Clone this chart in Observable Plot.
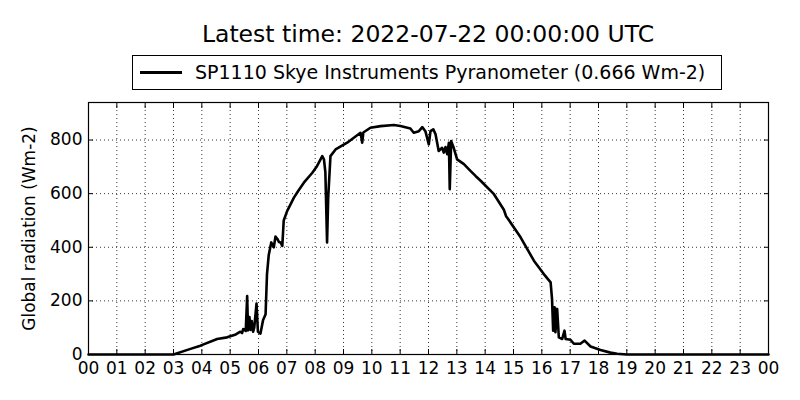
<!DOCTYPE html>
<html>
<head>
<meta charset="utf-8">
<script src="https://cdn.jsdelivr.net/npm/d3@7"></script>
<script src="https://cdn.jsdelivr.net/npm/@observablehq/plot@0.6"></script>
<style>
  body { margin: 0; background: #fff; font-family: "DejaVu Sans", sans-serif; }
  #wrap { position: relative; width: 800px; height: 400px; }
  #title { position: absolute; top: 19px; left: 88px; width: 680px; text-align: center; font-size: 23.5px; line-height: 30px; white-space: nowrap; }
  #legend { position: absolute; left: 132px; top: 55px; width: 588px; height: 33px; border: 1px solid #000; box-sizing: content-box; font-size: 19px; }
  #legend .swatch { position: absolute; left: 7px; top: 15px; width: 42px; height: 3px; background: #000; }
  #legend .label { position: absolute; left: 62px; top: 3px; white-space: nowrap; line-height: 26px; }
  #chart { position: absolute; left: 0; top: 95px; }
</style>
</head>
<body>
<div id="wrap">
  <div id="title"></div>
  <div id="legend"><div class="swatch"></div><div class="label"></div></div>
  <div id="chart"></div>
</div>
<script>
const titleText = "Latest time: 2022-07-22 00:00:00 UTC";
const seriesName = "SP1110 Skye Instruments Pyranometer (0.666 Wm-2)";
const yLabel = "Global radiation (Wm-2)";

// hours since 00:00 UTC and global radiation (Wm-2)
const hours = [0, 3.0, 3.6, 3.95, 4.54, 4.89, 5.2, 5.36, 5.42, 5.46, 5.55, 5.6, 5.63, 5.68, 5.72, 5.76, 5.81, 5.85, 5.93, 5.98,
  6.07, 6.16, 6.25, 6.3, 6.36, 6.45, 6.54, 6.6, 6.66, 6.72, 6.78, 6.84, 6.89, 7.01, 7.25, 7.4, 7.6, 7.9, 8.05, 8.25,
  8.31, 8.36, 8.42, 8.46, 8.54, 8.72, 9.13, 9.6, 9.63, 9.66, 9.7, 9.95, 10.31, 10.78, 11.01, 11.36, 11.48, 11.66, 11.78, 11.89,
  12.01, 12.07, 12.17, 12.25, 12.36, 12.48, 12.54, 12.6, 12.66, 12.72, 12.75, 12.8, 12.89, 13.01, 13.25, 13.48, 13.66, 13.84, 14.31, 14.66,
  14.74, 14.78, 15.25, 15.72, 16.07, 16.31, 16.36, 16.4, 16.45, 16.48, 16.54, 16.6, 16.72, 16.8, 16.84, 17.01, 17.13, 17.36, 17.51, 17.72,
  18.07, 18.42, 18.66, 19.0, 24];
const radiation = [0, 0, 21, 33, 58, 64, 75, 85, 80, 95, 88, 218, 90, 140, 92, 125, 85, 100, 190, 85,
  78, 128, 150, 300, 370, 418, 400, 440, 432, 420, 418, 405, 500, 535, 585, 610, 641, 678, 700, 740,
  728, 680, 418, 585, 740, 765, 790, 827, 810, 790, 828, 846, 852, 856, 852, 843, 827, 833, 848, 833,
  784, 833, 840, 821, 759, 771, 753, 774, 747, 790, 617, 796, 771, 728, 710, 685, 666, 648, 598, 540,
  515, 510, 437, 350, 300, 269, 207, 89, 176, 83, 170, 64, 58, 89, 58, 55, 40, 40, 52, 30,
  17, 7, 3, 0, 0];

const xTicks = d3.range(0, 25);
const yTicks = [0, 200, 400, 600, 800];

document.getElementById("title").textContent = titleText;
document.querySelector("#legend .label").textContent = seriesName;

const data = hours.map((h, i) => ({ h, v: radiation[i] }));
const blank = () => "";

const chart = Plot.plot({
  width: 800,
  height: 305,
  marginTop: 7,
  marginBottom: 46,
  marginLeft: 88,
  marginRight: 32,
  style: { fontFamily: "DejaVu Sans, sans-serif", fontSize: "17px", color: "#000", background: "#fff" },
  x: { domain: [0, 24] },
  y: { domain: [0, 940] },
  marks: [
    Plot.gridX(xTicks.slice(1, -1), { stroke: "#000", strokeOpacity: 1, strokeWidth: 0.8, strokeDasharray: "1,3" }),
    Plot.gridY(yTicks.slice(1), { stroke: "#000", strokeOpacity: 1, strokeWidth: 0.8, strokeDasharray: "1,3" }),
    Plot.axisX(xTicks, { anchor: "bottom", tickSize: -5, tickPadding: 12, label: null,
      tickFormat: (d) => String(d % 24).padStart(2, "0") }),
    Plot.axisX(xTicks, { anchor: "top", tickSize: -5, tickFormat: blank, label: null }),
    Plot.axisY(yTicks, { anchor: "left", tickSize: -5, tickPadding: 11, label: yLabel,
      labelAnchor: "center", labelArrow: "none", labelOffset: 66 }),
    Plot.axisY(yTicks, { anchor: "right", tickSize: -5, tickFormat: blank, label: null }),
    Plot.line(data, { x: "h", y: "v", stroke: "#000", strokeWidth: 2.6, strokeLinejoin: "round" }),
    Plot.frame({ stroke: "#000", strokeWidth: 1.2 })
  ]
});

document.getElementById("chart").append(chart);
</script>
</body>
</html>
